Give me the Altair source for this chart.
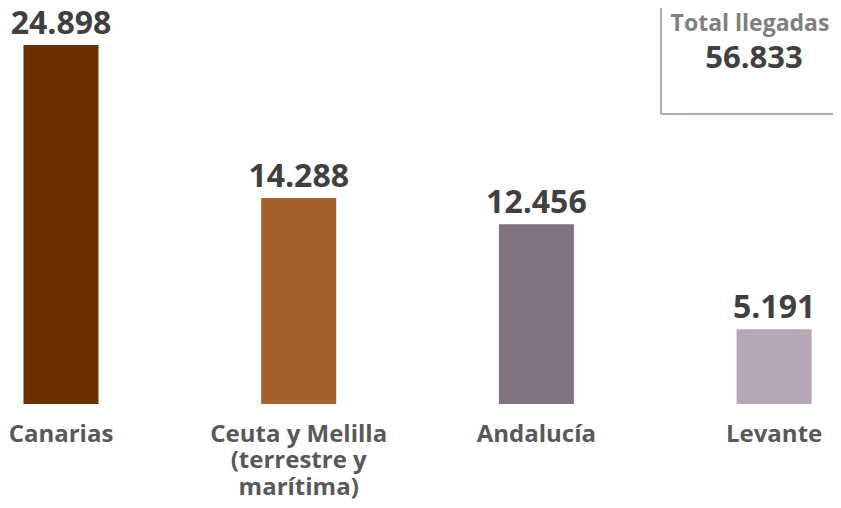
import altair as alt
import pandas as pd

regions = ["Canarias", "Ceuta y Melilla (terrestre y marítima)", "Andalucía", "Levante"]
arrivals = [24898, 14288, 12456, 5191]
colors = ["#6b2f00", "#a6602c", "#80727f", "#b7a6b5"]
total = 56833
total_title = "Total llegadas"

df = pd.DataFrame({"region": regions, "value": arrivals, "color": colors})

FONT = "Open Sans"

x = alt.X(
    "region:N",
    sort=regions,
    scale=alt.Scale(paddingInner=0.6845, paddingOuter=0.0776, align=0.42),
    axis=alt.Axis(
        title=None,
        domain=False,
        ticks=False,
        labelAngle=0,
        labelFont=FONT,
        labelFontSize=24,
        labelFontWeight="bold",
        labelColor="#595959",
        labelPadding=18,
        labelBaseline="top",
        labelLineHeight=26.5,
        labelLimit=400,
        labelExpr="datum.label == 'Ceuta y Melilla (terrestre y marítima)' ? ['Ceuta y Melilla', '(terrestre y', 'marítima)'] : datum.label",
    ),
)
y = alt.Y("value:Q", scale=alt.Scale(domain=[0, 27460], nice=False), axis=None)

bars = alt.Chart(df).mark_bar().encode(
    x=x, y=y, color=alt.Color("color:N", scale=None, legend=None)
)

labels = alt.Chart(df).transform_calculate(
    lab="replace(format(datum.value, ','), ',', '.')"
).mark_text(
    font=FONT, fontSize=32, fontWeight="bold", color="#404040",
    baseline="alphabetic", dy=-11,
).encode(x=x, y=y, text="lab:N")

box_df = pd.DataFrame({"title": [total_title], "total": [total]})

vline = alt.Chart(box_df).mark_rule(color="#b5a8b5", strokeWidth=2).encode(
    x=alt.value(653), y=alt.value(-10), y2=alt.value(106)
)
hline = alt.Chart(box_df).mark_rule(color="#b5a8b5", strokeWidth=2).encode(
    x=alt.value(653), x2=alt.value(826), y=alt.value(106)
)
box_title = alt.Chart(box_df).mark_text(
    font=FONT, fontSize=23, fontWeight="bold", color="#808080", baseline="middle"
).encode(x=alt.value(742), y=alt.value(16), text="title:N")
box_total = alt.Chart(box_df).transform_calculate(
    lab="replace(format(datum.total, ','), ',', '.')"
).mark_text(
    font=FONT, fontSize=31, fontWeight="bold", color="#404040", baseline="middle"
).encode(x=alt.value(746), y=alt.value(51), text="lab:N")

chart = alt.layer(bars, labels, vline, hline, box_title, box_total).properties(
    width=825, height=396,
    padding={"left": 0, "top": 0, "right": 0, "bottom": 96},
    autosize=alt.AutoSizeParams(type="none"),
).configure(background="white").configure_view(strokeWidth=0)

chart.save("out.html", embed_options={"renderer": "svg", "actions": False})
